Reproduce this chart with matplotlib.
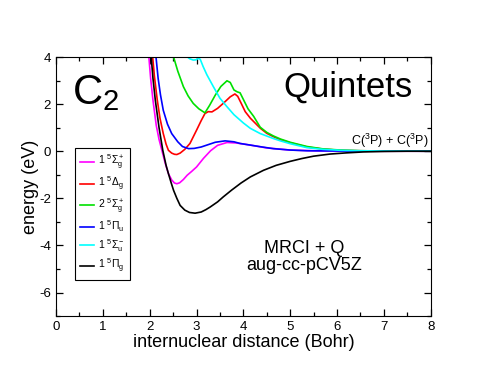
import matplotlib
matplotlib.use('Agg')
import matplotlib.pyplot as plt
from matplotlib.ticker import MultipleLocator

plt.rcParams['font.family'] = ['Liberation Sans', 'DejaVu Sans']
plt.rcParams['mathtext.fontset'] = 'custom'
plt.rcParams['mathtext.rm'] = 'Liberation Sans'
plt.rcParams['mathtext.it'] = 'Liberation Sans'
plt.rcParams['mathtext.sf'] = 'Liberation Sans'
plt.rcParams['axes.unicode_minus'] = False

# potential energy curves (Bohr, eV)
sg_x = [1.93, 1.97, 2.02, 2.07, 2.14, 2.20, 2.26, 2.33, 2.40, 2.47, 2.53, 2.58, 2.64, 2.72, 2.80,
        2.90, 3.00, 3.15, 3.30, 3.45, 3.65, 3.85, 4.15, 4.50, 5.00, 5.50, 6.00, 7.00, 8.00]
sg_y = [5.2, 4.3, 3.1, 2.17, 1.1, 0.5, 0.04, -0.5, -0.95, -1.22, -1.35, -1.38, -1.34, -1.2, -1.02,
        -0.85, -0.67, -0.3, 0.02, 0.25, 0.37, 0.35, 0.26, 0.14, 0.05, 0.02, 0.01, 0.0, 0.0]

dg_x = [1.99, 2.05, 2.10, 2.16, 2.22, 2.29, 2.35, 2.40, 2.47, 2.53, 2.58, 2.65, 2.75, 2.86, 3.00,
        3.10, 3.18, 3.25, 3.33, 3.45, 3.57, 3.72, 3.82, 3.88, 3.95, 4.04, 4.15, 4.36, 4.50, 4.64,
        4.79, 5.00, 5.36, 5.70, 6.07, 6.50, 7.00, 8.00]
dg_y = [5.3, 4.3, 3.2, 2.2, 1.4, 0.75, 0.3, 0.04, -0.08, -0.13, -0.14, -0.08, 0.08, 0.33, 0.89,
        1.3, 1.6, 1.68, 1.67, 1.82, 2.03, 2.31, 2.43, 2.33, 2.05, 1.68, 1.4, 0.98, 0.76, 0.62,
        0.49, 0.36, 0.18, 0.09, 0.04, 0.02, 0.01, 0.0]

sg2_x = [2.45, 2.51, 2.60, 2.72, 2.82, 2.93, 3.05, 3.18, 3.28, 3.40, 3.52, 3.65, 3.72, 3.80, 3.87,
         3.93, 4.00, 4.10, 4.22, 4.36, 4.50, 4.64, 4.79, 5.00, 5.36, 5.70, 6.07, 6.50, 7.00, 8.00]
sg2_y = [4.5, 4.0, 3.4, 2.74, 2.35, 2.03, 1.8, 1.63, 1.95, 2.38, 2.75, 2.99, 2.92, 2.6, 2.52,
         2.48, 2.2, 1.8, 1.48, 1.02, 0.8, 0.65, 0.52, 0.38, 0.2, 0.1, 0.05, 0.02, 0.01, 0.0]

pu_x = [2.07, 2.12, 2.18, 2.23, 2.29, 2.38, 2.47, 2.60, 2.70, 2.83, 2.95, 3.10, 3.22, 3.40, 3.61,
        3.80, 3.93, 4.15, 4.40, 4.64, 5.00, 5.36, 6.00, 8.00]
pu_y = [5.5, 4.3, 3.1, 2.4, 1.74, 1.15, 0.75, 0.4, 0.2, 0.11, 0.12, 0.18, 0.26, 0.38, 0.44,
        0.4, 0.33, 0.26, 0.18, 0.11, 0.05, 0.02, 0.01, 0.0]

su_x = [2.65, 2.75, 2.85, 2.93, 2.99, 3.04, 3.08, 3.14, 3.22, 3.36, 3.50, 3.65, 3.80, 4.00, 4.15,
        4.36, 4.64, 4.79, 5.00, 5.36, 5.70, 6.07, 6.50, 7.00, 8.00]
su_y = [4.3, 4.1, 3.93, 3.87, 3.88, 3.95, 3.9, 3.6, 3.25, 2.74, 2.25, 1.89, 1.55, 1.2, 0.97,
        0.75, 0.54, 0.44, 0.32, 0.15, 0.08, 0.04, 0.02, 0.01, 0.0]

pg_x = [1.97, 2.02, 2.07, 2.12, 2.20, 2.28, 2.35, 2.40, 2.46, 2.51, 2.58, 2.65, 2.75, 2.85, 2.97,
        3.10, 3.20, 3.29, 3.45, 3.57, 3.75, 3.95, 4.15, 4.43, 4.70, 5.00, 5.25, 5.50, 5.85, 6.20,
        6.56, 7.00, 7.50, 8.00]
pg_y = [5.3, 4.3, 3.1, 2.17, 1.0, 0.04, -0.6, -0.95, -1.35, -1.66, -2.0, -2.3, -2.5, -2.6, -2.63,
        -2.58, -2.48, -2.37, -2.15, -1.94, -1.65, -1.35, -1.09, -0.81, -0.6, -0.43, -0.31, -0.21, -0.12, -0.07,
        -0.03, -0.01, 0.0, 0.0]

states = [
    (sg_x, sg_y, '#ff00ff', r'1 $^5\Sigma_g^+$'),
    (dg_x, dg_y, '#ff0000', r'1 $^5\Delta_g$'),
    (sg2_x, sg2_y, '#00e000', r'2 $^5\Sigma_g^+$'),
    (pu_x, pu_y, '#0000ff', r'1 $^5\Pi_u$'),
    (su_x, su_y, '#00ffff', r'1 $^5\Sigma_u^-$'),
    (pg_x, pg_y, '#000000', r'1 $^5\Pi_g$'),
]

fig = plt.figure(figsize=(4.85, 3.75), dpi=100)
ax = fig.add_axes([0.1155, 0.157, 0.7725, 0.691])

for x, y, c, lab in states:
    ax.plot(x, y, color=c, lw=1.2, label=lab)

ax.set_xlim(0, 8)
ax.set_ylim(-7, 4)
ax.xaxis.set_major_locator(MultipleLocator(1))
ax.xaxis.set_minor_locator(MultipleLocator(0.5))
ax.yaxis.set_major_locator(MultipleLocator(2))
ax.yaxis.set_minor_locator(MultipleLocator(1))
ax.tick_params(which='both', direction='in', top=True, right=True, labelsize=9.5, width=0.9)
ax.tick_params(which='major', length=5)
ax.tick_params(which='minor', length=3)
ax.set_xlabel('internuclear distance (Bohr)', fontsize=13, labelpad=1)
ax.set_ylabel('energy (eV)', fontsize=13, labelpad=0)

ax.text(0.34, 2.0, r'C$_2$', fontsize=30)
ax.text(4.85, 2.3, 'Quintets', fontsize=25)
ax.text(7.95, 0.26, r'C($^3$P) + C($^3$P)', fontsize=9, ha='right')
ax.text(5.3, -4.34, 'MRCI + Q', fontsize=13, ha='center')
ax.text(5.3, -5.06, 'aug-cc-pCV5Z', fontsize=13, ha='center')

leg = ax.legend(loc='upper left', bbox_to_anchor=(0.05, 0.65), borderaxespad=0, fontsize=7.5,
                fancybox=False, edgecolor='black', framealpha=1, handlelength=1.3,
                labelspacing=0.28, borderpad=0.5, handletextpad=0.4)
leg.get_frame().set_linewidth(0.8)

fig.savefig('out.png', dpi=100)
